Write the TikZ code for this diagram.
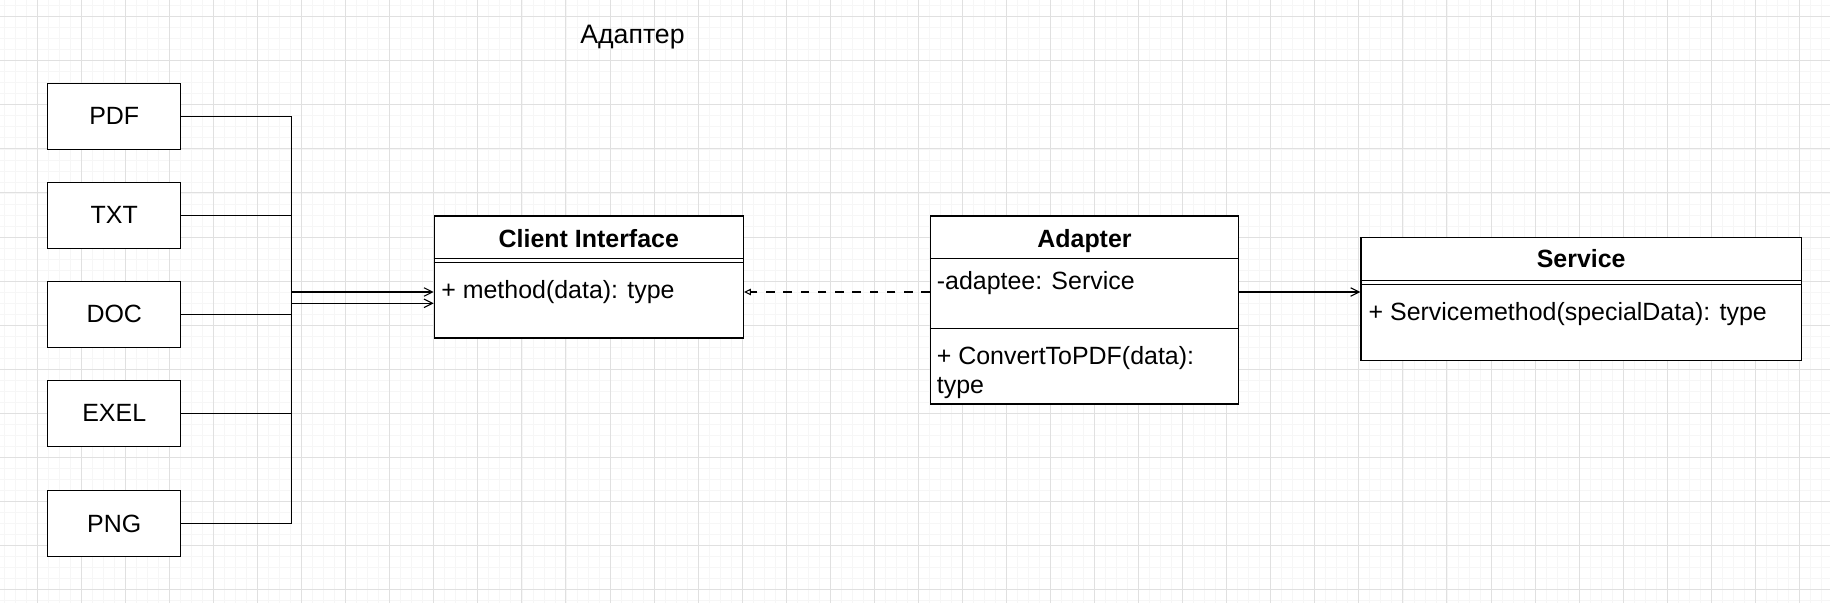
\documentclass[tikz,border=0pt]{standalone}
\usepackage{fontspec}
\setmainfont{Liberation Sans}
\usetikzlibrary{arrows.meta}
\definecolor{grmaj}{gray}{.88}
\definecolor{grmin}{gray}{.965}
\tikzset{>={Straight Barb[length=.17cm,width=.17cm]}}
\tikzset{
  filebox/.style={draw, line width=.8pt, fill=white, minimum width=2.66cm, minimum height=1.32cm, inner sep=0pt, font=\fontsize{14.2}{17}\selectfont},
  umlbox/.style={draw, line width=.8pt, fill=white, inner sep=0pt},
  umlline/.style={line width=.8pt},
  umltext/.style={inner sep=0pt, font=\fontsize{14.2}{17}\selectfont},
  umlhead/.style={inner sep=0pt, font=\fontsize{14.2}{17}\selectfont\bfseries},
  link/.style={line width=.6pt},
}

\begin{document}
\begin{tikzpicture}[x=0.02cm, y=-0.02cm]
    \useasboundingbox(0, 0) rectangle (1830, 603);
    \fill[white](0, 0) rectangle (1830, 603);
    % grid
    \foreach \i in {0,...,166} \draw[grmin, line width=.4pt](4.26+11.0125*\i, 0)--++(0, 603);
    \foreach \i in {0,...,54} \draw[grmin, line width=.4pt](0, 5.69+11.0125*\i)--++(1830, 0);
    \foreach \i in {0,...,40} \draw[grmaj, line width=.5pt](37.3+44.05*\i, 0)--++(0, 603);
    \foreach \i in {0,...,13} \draw[grmaj, line width=.5pt](0, 16.7+44.05*\i)--++(1830, 0);
    \node[umltext, font=\fontsize{15.2}{18}\selectfont, anchor=base west](title) at(580, 43.3){Адаптер};
    % files
    \foreach \name/\y in {PDF/116.3, TXT/215.3, DOC/314.2, EXEL/413.3, PNG/523.5}
        \node[filebox](\name) at(114.25, \y){\name};
    \coordinate(bus) at(291.7, 292);
    \coordinate(bus2) at(291.7, 303.3);
    \foreach \name in {PDF, TXT, DOC, EXEL, PNG}
        \draw[link](\name.east)--(\name.east -| bus);
    \draw[link](PDF.east -| bus)--(PNG.east -| bus);
    % client interface
    \node[umlbox, minimum width=6.18cm, minimum height=2.44cm](ci) at(588.8, 277){};
    \draw[umlline](ci.north west)++(0, 43)--++(309, 0);
    \draw[umlline](ci.north west)++(0, 47)--++(309, 0);
    \node[umlhead, anchor=base](cihead) at(588.8, 247){Client Interface};
    \node[umltext, anchor=base west](cimeth) at(441, 298.3){+ method(data): type};
    % adapter
    \node[umlbox, minimum width=6.16cm, minimum height=3.76cm](ad) at(1084.5, 310){};
    \draw[umlline](ad.north west)++(0, 43)--++(308, 0);
    \draw[umlline](ad.north west)++(0, 113)--++(308, 0);
    \node[umlhead, anchor=base](adhead) at(1084.5, 247){Adapter};
    \node[umltext, anchor=base west](adattr) at(936.5, 289.3){-adaptee: Service};
    \node[umltext, anchor=base west](admeth) at(936.5, 364.3){+ ConvertToPDF(data):};
    \node[umltext, anchor=base west](admeth2) at(936.5, 393){type};
    % service
    \node[umlbox, minimum width=8.81cm, minimum height=2.46cm](sv) at(1581.2, 299){};
    \draw[umlline](sv.north west)++(0, 43.5)--++(440.5, 0);
    \draw[umlline](sv.north west)++(0, 47.5)--++(440.5, 0);
    \node[umlhead, anchor=base](svhead) at(1581.2, 267.5){Service};
    \node[umltext, anchor=base west](svmeth) at(1368.3, 320){+ Servicemethod(specialData): type};
    % links
    \coordinate(lnk) at(0, 292);
    \draw[link, ->](bus)--(ci.west |- bus);
    \draw[link, ->](bus2)--(ci.west |- bus2);
    \draw[link, dash pattern=on .17cm off .175cm, -{Triangle[open, length=.14cm, width=.13cm]}](ad.west |- lnk)--(ci.east |- lnk);
    \draw[link, ->](ad.east |- lnk)--(sv.west |- lnk);
\end{tikzpicture}
\end{document}
